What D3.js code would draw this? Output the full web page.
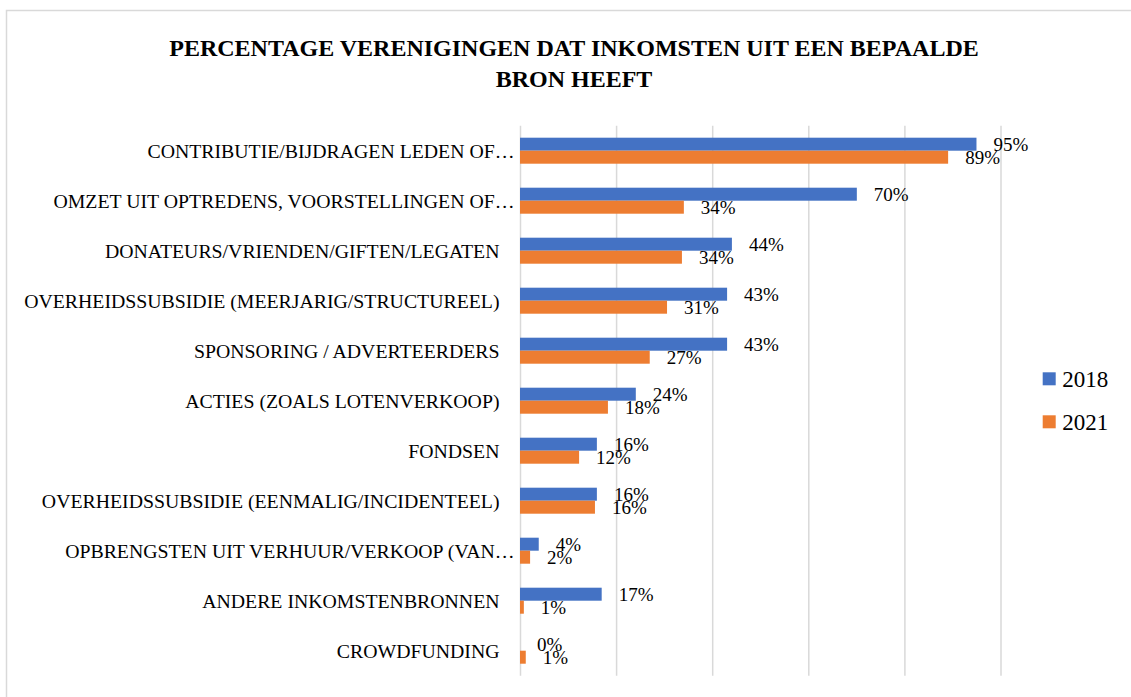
<!DOCTYPE html>
<html>
<head>
<meta charset="utf-8">
<script src="https://cdn.jsdelivr.net/npm/d3@7"></script>
<style>
  html, body { margin: 0; padding: 0; background: #fff; }
  svg { display: block; }
</style>
</head>
<body>
<svg id="chart" width="1131" height="697"></svg>
<script>
const titleLines = ["PERCENTAGE VERENIGINGEN DAT INKOMSTEN UIT EEN BEPAALDE", "BRON HEEFT"];
const categories = [
  "CONTRIBUTIE/BIJDRAGEN LEDEN OF…",
  "OMZET UIT OPTREDENS, VOORSTELLINGEN OF…",
  "DONATEURS/VRIENDEN/GIFTEN/LEGATEN",
  "OVERHEIDSSUBSIDIE (MEERJARIG/STRUCTUREEL)",
  "SPONSORING / ADVERTEERDERS",
  "ACTIES (ZOALS LOTENVERKOOP)",
  "FONDSEN",
  "OVERHEIDSSUBSIDIE (EENMALIG/INCIDENTEEL)",
  "OPBRENGSTEN UIT VERHUUR/VERKOOP (VAN…",
  "ANDERE INKOMSTENBRONNEN",
  "CROWDFUNDING"
];
const seriesNames = ["2018", "2021"];
const values2018 = [95.0, 70.1, 44.1, 43.1, 43.1, 24.1, 16.0, 16.0, 3.9, 17.0, 0.0];
const values2021 = [89.1, 34.1, 33.7, 30.6, 27.0, 18.3, 12.3, 15.6, 2.1, 0.8, 1.2];
const xTicks = [0, 20, 40, 60, 80, 100];
const colors = ["#4472C4", "#ED7D31"];

const svg = d3.select("#chart");
const W = 1131, H = 697;
const plot = { left: 520, right: 1000.5, top: 125.7, bottom: 675.7 };
const serif = "'Liberation Serif', 'DejaVu Serif', serif";

// chart border
svg.append("rect")
  .attr("x", 6.5).attr("y", 10.5)
  .attr("width", W + 10).attr("height", H + 10)
  .attr("fill", "none").attr("stroke", "#D9D9D9").attr("stroke-width", 1.5);

// title
const title = svg.append("text")
  .attr("text-anchor", "middle")
  .attr("font-family", serif)
  .attr("font-weight", "bold")
  .attr("font-size", 24)
  .attr("fill", "#000");
titleLines.forEach((t, i) => {
  title.append("tspan").attr("x", 574).attr("y", 56 + i * 30.5).text(t);
});

const x = d3.scaleLinear().domain([0, 100]).range([plot.left, plot.right]);
const y = d3.scaleBand().domain(categories).range([plot.top, plot.bottom])
  .paddingInner(0.48).paddingOuter(0.24);
const ySub = d3.scaleBand().domain(seriesNames).range([0, y.bandwidth()]);

// gridlines
const grid = d3.axisBottom(x).tickValues(xTicks).tickSize(-(plot.bottom - plot.top)).tickFormat("");
svg.append("g")
  .attr("transform", `translate(0,${plot.bottom})`)
  .call(grid)
  .call(g => g.select(".domain").remove())
  .call(g => g.selectAll(".tick line").attr("stroke", "#D9D9D9").attr("stroke-width", 1.5));

// category axis labels
const yAxis = d3.axisLeft(y).tickSize(0).tickPadding(20.5);
svg.append("g")
  .attr("transform", `translate(${plot.left},0)`)
  .call(yAxis)
  .call(g => g.select(".domain").remove())
  .call(g => g.selectAll(".tick text")
    .attr("font-family", serif)
    .attr("font-size", 19.8)
    .attr("fill", "#000")
    .attr("dy", "0.35em")
    .attr("dx", d => d.endsWith("…") ? 15 : 0));

// bars
const data = categories.map((c, i) => ({ cat: c, vals: [values2018[i], values2021[i]] }));
const groups = svg.append("g").selectAll("g").data(data).join("g")
  .attr("transform", d => `translate(0,${y(d.cat)})`);

groups.selectAll("rect").data(d => d.vals.map((v, j) => ({ v, s: seriesNames[j], j })))
  .join("rect")
  .attr("x", x(0))
  .attr("y", d => ySub(d.s))
  .attr("width", d => x(d.v) - x(0))
  .attr("height", ySub.bandwidth())
  .attr("fill", d => colors[d.j]);

groups.selectAll("text.val").data(d => d.vals.map((v, j) => ({ v, s: seriesNames[j], j })))
  .join("text")
  .attr("class", "val")
  .attr("x", d => x(d.v) + 17)
  .attr("y", d => ySub(d.s) + ySub.bandwidth() / 2 + 6.5)
  .attr("font-family", serif)
  .attr("font-size", 19)
  .attr("fill", "#000")
  .text(d => Math.round(d.v) + "%");

// legend
const legend = svg.append("g").attr("transform", "translate(1042.7,372.3)");
seriesNames.forEach((s, i) => {
  const g = legend.append("g").attr("transform", `translate(0,${i * 43})`);
  g.append("rect").attr("width", 13).attr("height", 13).attr("fill", colors[i]);
  g.append("text").attr("x", 19.5).attr("y", 15)
    .attr("font-family", serif).attr("font-size", 23).attr("fill", "#000").text(s);
});
</script>
</body>
</html>
